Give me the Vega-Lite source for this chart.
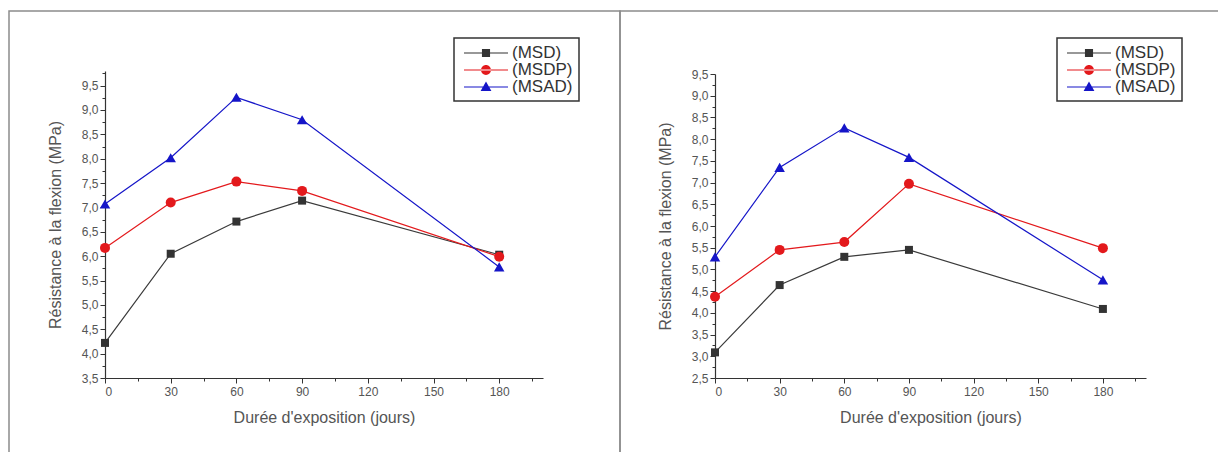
{
  "$schema": "https://vega.github.io/schema/vega-lite/v6.json",
  "autosize": {"type": "pad"},
  "padding": {"left": 8, "top": 10, "right": 0, "bottom": 0},
  "background": "white",
  "spacing": 0,
  "bounds": "flush",
  "resolve": {"scale": {"color": "independent", "shape": "independent"}, "legend": {"color": "independent", "shape": "independent"}},
  "datasets": {
    "d": [
      {"panel": "L", "series": "(MSD)", "day": 0, "value": 4.22},
      {"panel": "L", "series": "(MSD)", "day": 30, "value": 6.05},
      {"panel": "L", "series": "(MSD)", "day": 60, "value": 6.71},
      {"panel": "L", "series": "(MSD)", "day": 90, "value": 7.14},
      {"panel": "L", "series": "(MSD)", "day": 180, "value": 6.03},
      {"panel": "L", "series": "(MSDP)", "day": 0, "value": 6.17},
      {"panel": "L", "series": "(MSDP)", "day": 30, "value": 7.10},
      {"panel": "L", "series": "(MSDP)", "day": 60, "value": 7.53},
      {"panel": "L", "series": "(MSDP)", "day": 90, "value": 7.34},
      {"panel": "L", "series": "(MSDP)", "day": 180, "value": 5.99},
      {"panel": "L", "series": "(MSAD)", "day": 0, "value": 7.07},
      {"panel": "L", "series": "(MSAD)", "day": 30, "value": 8.02},
      {"panel": "L", "series": "(MSAD)", "day": 60, "value": 9.26},
      {"panel": "L", "series": "(MSAD)", "day": 90, "value": 8.80},
      {"panel": "L", "series": "(MSAD)", "day": 180, "value": 5.78},
      {"panel": "R", "series": "(MSD)", "day": 0, "value": 3.09},
      {"panel": "R", "series": "(MSD)", "day": 30, "value": 4.64},
      {"panel": "R", "series": "(MSD)", "day": 60, "value": 5.29},
      {"panel": "R", "series": "(MSD)", "day": 90, "value": 5.45},
      {"panel": "R", "series": "(MSD)", "day": 180, "value": 4.09},
      {"panel": "R", "series": "(MSDP)", "day": 0, "value": 4.37},
      {"panel": "R", "series": "(MSDP)", "day": 30, "value": 5.45},
      {"panel": "R", "series": "(MSDP)", "day": 60, "value": 5.63},
      {"panel": "R", "series": "(MSDP)", "day": 90, "value": 6.97},
      {"panel": "R", "series": "(MSDP)", "day": 180, "value": 5.49},
      {"panel": "R", "series": "(MSAD)", "day": 0, "value": 5.29},
      {"panel": "R", "series": "(MSAD)", "day": 30, "value": 7.35},
      {"panel": "R", "series": "(MSAD)", "day": 60, "value": 8.26},
      {"panel": "R", "series": "(MSAD)", "day": 90, "value": 7.58},
      {"panel": "R", "series": "(MSAD)", "day": 180, "value": 4.76}
    ]
  },
  "hconcat": [
    {
      "width": 611,
      "height": 450,
      "data": {"name": "d"},
      "transform": [{"filter": "datum.panel == 'L'"}],
      "encoding": {
        "x": {"field": "day", "type": "quantitative", "axis": null},
        "y": {"field": "value", "type": "quantitative", "axis": null}
      },
      "layer": [
        {
          "mark": {"type": "point", "filled": true, "opacity": 0},
          "encoding": {
            "x": {"field": "day", "type": "quantitative",
              "scale": {"domain": [0, 200], "range": [96, 534], "nice": false, "zero": false},
              "axis": {"orient": "bottom", "offset": -83, "values": [0, 30, 60, 90, 120, 150, 180], "title": "Durée d'exposition (jours)", "tickSize": 5, "labelPadding": 3, "titlePadding": 12}},
            "y": {"field": "value", "type": "quantitative",
              "scale": {"domain": [3.5, 9.8], "range": [367, 60], "nice": false, "zero": false},
              "axis": {"orient": "left", "offset": -96, "values": [3.5, 4, 4.5, 5, 5.5, 6, 6.5, 7, 7.5, 8, 8.5, 9, 9.5], "format": ".1f", "labelExpr": "replace(datum.label, '.', ',')", "title": "Résistance à la flexion (MPa)", "tickSize": 5, "labelPadding": 2, "titlePadding": 18}}
          }
        },
        {
          "transform": [{"filter": "datum.series == '(MSD)'"}],
          "mark": {"type": "line", "strokeWidth": 1.2, "color": "#3a3a3a"}
        },
        {
          "transform": [{"filter": "datum.series == '(MSDP)'"}],
          "mark": {"type": "line", "strokeWidth": 1.2, "color": "#e3191c"}
        },
        {
          "transform": [{"filter": "datum.series == '(MSAD)'"}],
          "mark": {"type": "line", "strokeWidth": 1.2, "color": "#1515c8"}
        },
        {
          "transform": [{"filter": "datum.series == '(MSD)'"}],
          "mark": {"type": "square", "size": 64, "opacity": 1, "filled": true, "color": "#333333"}
        },
        {
          "transform": [{"filter": "datum.series == '(MSDP)'"}],
          "mark": {"type": "circle", "size": 100, "opacity": 1, "color": "#e3191c"}
        },
        {
          "transform": [{"filter": "datum.series == '(MSAD)'"}],
          "mark": {"type": "point", "shape": "triangle-up", "size": 110, "opacity": 1, "filled": true, "color": "#1515c8"}
        },
        {
          "mark": {"type": "point", "filled": true, "opacity": 0},
          "encoding": {
            "x": {"field": "day", "type": "quantitative",
              "axis": {"orient": "bottom", "offset": -83, "values": [15, 45, 75, 105, 135, 165, 195], "labels": false, "domain": false, "tickSize": 3, "title": null}},
            "y": {"field": "value", "type": "quantitative",
              "axis": {"orient": "left", "offset": -96, "values": [3.75, 4.25, 4.75, 5.25, 5.75, 6.25, 6.75, 7.25, 7.75, 8.25, 8.75, 9.25, 9.75], "labels": false, "domain": false, "tickSize": 3, "title": null}},
            "color": {"field": "series", "type": "nominal",
              "scale": {"domain": ["(MSD)", "(MSDP)", "(MSAD)"], "range": ["#333333", "#e3191c", "#1515c8"]},
              "legend": {"orient": "none", "legendX": 445, "legendY": 27, "title": null}},
            "shape": {"field": "series", "type": "nominal",
              "scale": {"domain": ["(MSD)", "(MSDP)", "(MSAD)"], "range": [
                "M-2.45,-0.06H2.45V0.06H-2.45Z M-0.45,-0.45H0.45V0.45H-0.45Z",
                "M-2.45,-0.06H2.45V0.06H-2.45Z M-0.55,0A0.55,0.55 0 1,0 0.55,0A0.55,0.55 0 1,0 -0.55,0Z",
                "M-2.45,-0.06H2.45V0.06H-2.45Z M-0.6,0.45L0,-0.6L0.6,0.45Z"]},
              "legend": {"orient": "none", "legendX": 445, "legendY": 27, "title": null}}
          }
        }
      ],
      "resolve": {"axis": {"x": "independent", "y": "independent"}}
    },
    {
      "width": 620,
      "height": 450,
      "data": {"name": "d"},
      "transform": [{"filter": "datum.panel == 'R'"}],
      "encoding": {
        "x": {"field": "day", "type": "quantitative", "axis": null},
        "y": {"field": "value", "type": "quantitative", "axis": null}
      },
      "layer": [
        {
          "mark": {"type": "point", "filled": true, "opacity": 0},
          "encoding": {
            "x": {"field": "day", "type": "quantitative",
              "scale": {"domain": [0, 200], "range": [95, 526], "nice": false, "zero": false},
              "axis": {"orient": "bottom", "offset": -83, "values": [0, 30, 60, 90, 120, 150, 180], "title": "Durée d'exposition (jours)", "tickSize": 5, "labelPadding": 3, "titlePadding": 12}},
            "y": {"field": "value", "type": "quantitative",
              "scale": {"domain": [2.5, 9.5], "range": [367, 63], "nice": false, "zero": false},
              "axis": {"orient": "left", "offset": -95, "values": [2.5, 3, 3.5, 4, 4.5, 5, 5.5, 6, 6.5, 7, 7.5, 8, 8.5, 9, 9.5], "format": ".1f", "labelExpr": "replace(datum.label, '.', ',')", "title": "Résistance à la flexion (MPa)", "tickSize": 5, "labelPadding": 2, "titlePadding": 18}}
          }
        },
        {
          "transform": [{"filter": "datum.series == '(MSD)'"}],
          "mark": {"type": "line", "strokeWidth": 1.2, "color": "#3a3a3a"}
        },
        {
          "transform": [{"filter": "datum.series == '(MSDP)'"}],
          "mark": {"type": "line", "strokeWidth": 1.2, "color": "#e3191c"}
        },
        {
          "transform": [{"filter": "datum.series == '(MSAD)'"}],
          "mark": {"type": "line", "strokeWidth": 1.2, "color": "#1515c8"}
        },
        {
          "transform": [{"filter": "datum.series == '(MSD)'"}],
          "mark": {"type": "square", "size": 64, "opacity": 1, "filled": true, "color": "#333333"}
        },
        {
          "transform": [{"filter": "datum.series == '(MSDP)'"}],
          "mark": {"type": "circle", "size": 100, "opacity": 1, "color": "#e3191c"}
        },
        {
          "transform": [{"filter": "datum.series == '(MSAD)'"}],
          "mark": {"type": "point", "shape": "triangle-up", "size": 110, "opacity": 1, "filled": true, "color": "#1515c8"}
        },
        {
          "mark": {"type": "point", "filled": true, "opacity": 0},
          "encoding": {
            "x": {"field": "day", "type": "quantitative",
              "axis": {"orient": "bottom", "offset": -83, "values": [15, 45, 75, 105, 135, 165, 195], "labels": false, "domain": false, "tickSize": 3, "title": null}},
            "y": {"field": "value", "type": "quantitative",
              "axis": {"orient": "left", "offset": -95, "values": [2.75, 3.25, 3.75, 4.25, 4.75, 5.25, 5.75, 6.25, 6.75, 7.25, 7.75, 8.25, 8.75, 9.25], "labels": false, "domain": false, "tickSize": 3, "title": null}},
            "color": {"field": "series", "type": "nominal",
              "scale": {"domain": ["(MSD)", "(MSDP)", "(MSAD)"], "range": ["#333333", "#e3191c", "#1515c8"]},
              "legend": {"orient": "none", "legendX": 437, "legendY": 27, "title": null}},
            "shape": {"field": "series", "type": "nominal",
              "scale": {"domain": ["(MSD)", "(MSDP)", "(MSAD)"], "range": [
                "M-2.45,-0.06H2.45V0.06H-2.45Z M-0.45,-0.45H0.45V0.45H-0.45Z",
                "M-2.45,-0.06H2.45V0.06H-2.45Z M-0.55,0A0.55,0.55 0 1,0 0.55,0A0.55,0.55 0 1,0 -0.55,0Z",
                "M-2.45,-0.06H2.45V0.06H-2.45Z M-0.6,0.45L0,-0.6L0.6,0.45Z"]},
              "legend": {"orient": "none", "legendX": 437, "legendY": 27, "title": null}}
          }
        }
      ],
      "resolve": {"axis": {"x": "independent", "y": "independent"}}
    }
  ],
  "config": {
    "view": {"stroke": "#8c8c8c", "strokeWidth": 1.5},
    "axis": {
      "grid": false,
      "domainColor": "#333333",
      "domainWidth": 1.2,
      "tickColor": "#333333",
      "tickWidth": 1,
      "labelColor": "#555555",
      "titleColor": "#555555",
      "labelFont": "Liberation Sans",
      "titleFont": "Liberation Sans",
      "labelFontSize": 12,
      "titleFontSize": 16,
      "titleFontWeight": "normal"
    },
    "legend": {
      "strokeColor": "#333333",
      "strokeWidth": 1.5,
      "padding": 6,
      "rowPadding": 0,
      "symbolSize": 324,
      "symbolOffset": 17,
      "labelOffset": 17,
      "labelFont": "Liberation Sans",
      "labelFontSize": 17,
      "labelColor": "#333333",
      "symbolStrokeWidth": 0,
      "symbolOpacity": 1
    }
  }
}
